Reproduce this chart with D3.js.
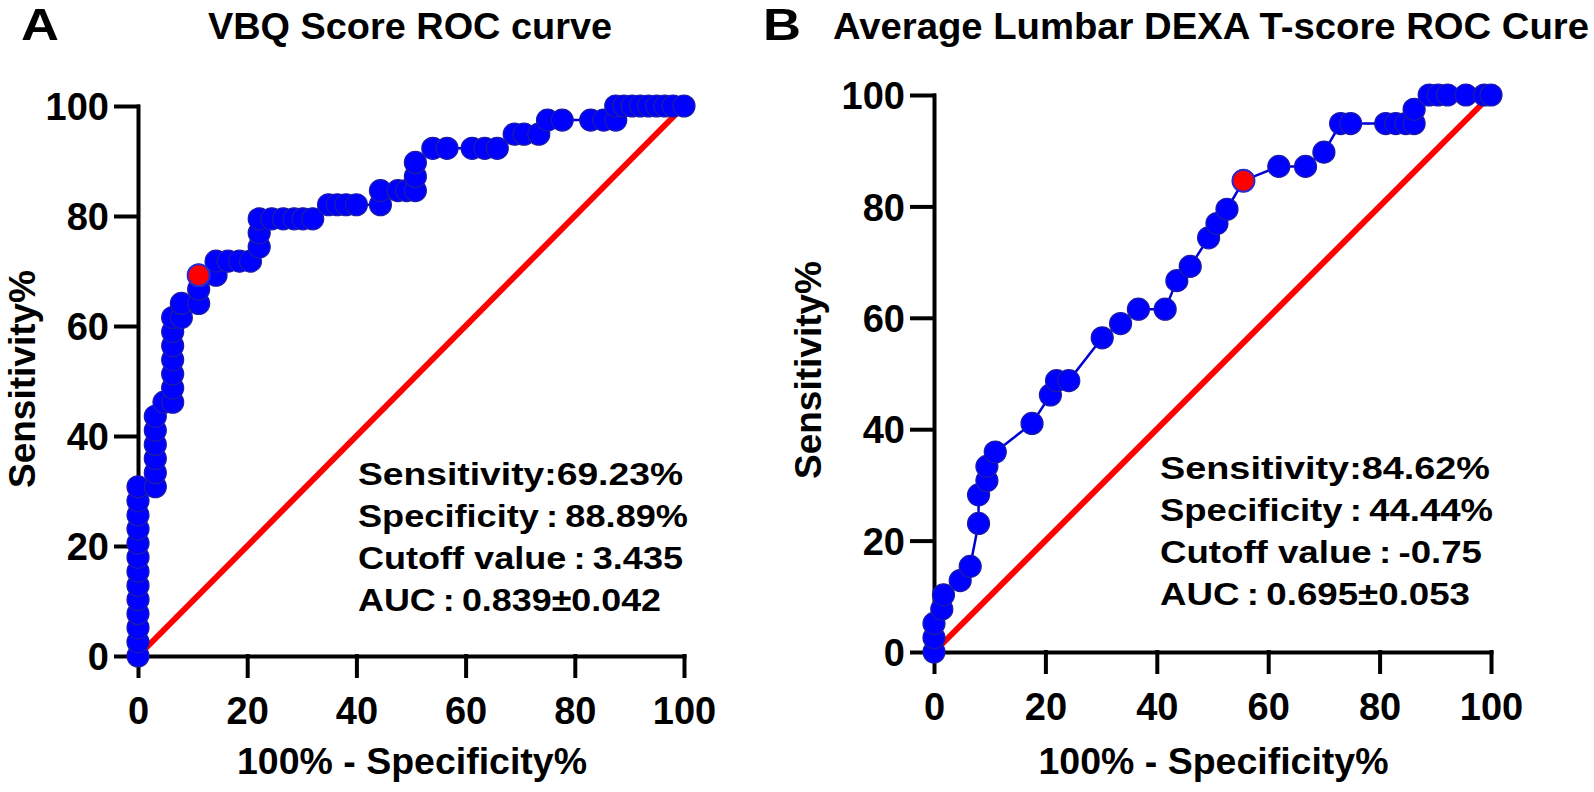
<!DOCTYPE html>
<html>
<head>
<meta charset="utf-8">
<script src="https://cdn.jsdelivr.net/npm/d3@7"></script>
<style>
  body { margin: 0; background: #fff; }
  svg text { font-family: "Liberation Sans", Arial, sans-serif; font-weight: bold; }
</style>
</head>
<body>
<div id="chart"></div>
<script>
// ROC points for VBQ score (x = 100% - specificity, y = sensitivity)
const vbqFpr = [0, 0, 0, 0, 0, 0, 0, 0, 0, 0, 0, 0, 0,
  3.17, 3.17, 3.17, 3.17, 3.17, 3.17, 4.76,
  6.35, 6.35, 6.35, 6.35, 6.35, 6.35, 6.35, 7.94, 7.94,
  11.11, 11.11, 11.11, 14.29, 14.29, 16.5, 18.6, 20.6,
  22.2, 22.2, 22.2, 24.5, 26.6, 28.6, 30.2, 32.0,
  34.9, 36.5, 38.1, 40.0, 44.4, 44.4, 47.6, 49.2, 50.8, 50.8, 50.8,
  54.0, 56.6, 61.2, 63.5, 65.8, 68.9, 70.7, 73.4,
  75.0, 77.7, 82.9, 85.3, 87.5,
  87.5, 89.0, 90.5, 92.0, 93.5, 95.0, 96.5, 98.0, 100];
const vbqSens = [0, 2.56, 5.13, 7.69, 10.26, 12.82, 15.38, 17.95, 20.51, 23.08, 25.64, 28.21, 30.77,
  30.77, 33.33, 35.90, 38.46, 41.03, 43.59, 46.15,
  46.15, 48.72, 51.28, 53.85, 56.41, 58.97, 61.54, 61.54, 64.10,
  64.10, 66.67, 69.23, 69.23, 71.79, 71.79, 71.79, 71.79,
  74.36, 76.92, 79.49, 79.49, 79.49, 79.49, 79.49, 79.49,
  82.05, 82.05, 82.05, 82.05, 82.05, 84.62, 84.62, 84.62, 84.62, 87.18, 89.74,
  92.31, 92.31, 92.31, 92.31, 92.31, 94.87, 94.87, 94.87,
  97.44, 97.44, 97.44, 97.44, 97.44,
  100, 100, 100, 100, 100, 100, 100, 100, 100];
const vbqCutoff = [11.11, 69.23];
const vbqStats = ["Sensitivity:69.23%", "Specificity\u2009:\u200988.89%", "Cutoff value\u2009:\u20093.435", "AUC\u2009:\u20090.839\u00b10.042"];

// ROC points for average lumbar DEXA T-score
const dexaFpr = [0, 0, 0, 1.4, 1.7, 4.7, 6.5, 8.0, 8.0, 9.5, 9.5, 11.0,
  17.6, 20.9, 22.0, 24.2, 30.2, 33.5, 36.7, 41.5, 43.6, 46.0, 49.3, 50.8, 52.6,
  55.56, 61.9, 66.7, 70.0, 73.0, 74.8, 81.1, 82.9, 84.7, 86.2, 86.2,
  88.9, 90.5, 92.2, 95.5, 98.8, 100];
const dexaSens = [0, 2.56, 5.13, 7.69, 10.26, 12.82, 15.38, 23.08, 28.21, 30.77, 33.33, 35.90,
  41.03, 46.15, 48.72, 48.72, 56.41, 58.97, 61.54, 61.54, 66.67, 69.23, 74.36, 76.92, 79.49,
  84.62, 87.18, 87.18, 89.74, 94.87, 94.87, 94.87, 94.87, 94.87, 94.87, 97.44,
  100, 100, 100, 100, 100, 100];
const dexaCutoff = [55.56, 84.62];
const dexaStats = ["Sensitivity:84.62%", "Specificity\u2009:\u200944.44%", "Cutoff value\u2009:\u2009-0.75", "AUC\u2009:\u20090.695\u00b10.053"];

const tickValues = [0, 20, 40, 60, 80, 100];

const svg = d3.select("#chart")
    .append("svg")
    .attr("width", 1594)
    .attr("height", 792);

function drawPanel(p) {
    const x = d3.scaleLinear().domain([0, 100]).range(p.xRange);
    const y = d3.scaleLinear().domain([0, 100]).range(p.yRange);
    const g = svg.append("g");

    // axes
    const xAxis = g.append("g")
        .attr("transform", "translate(0," + p.yRange[0] + ")")
        .call(d3.axisBottom(x).tickValues(tickValues).tickSize(20).tickSizeOuter(0).tickPadding(21));
    const yAxis = g.append("g")
        .attr("transform", "translate(" + p.xRange[0] + ",0)")
        .call(d3.axisLeft(y).tickValues(tickValues).tickSize(22).tickSizeOuter(0).tickPadding(7));
    [xAxis, yAxis].forEach(a => {
        a.selectAll("path, line").attr("stroke", "#000").attr("stroke-width", 4).attr("stroke-linecap", "square");
        a.selectAll("text").attr("fill", "#000").style("font-size", "38px");
    });
    xAxis.selectAll("text").attr("dy", "0.71em");
    yAxis.selectAll("text").attr("dy", "0.36em");

    // reference diagonal
    g.append("line")
        .attr("x1", x(0)).attr("y1", y(0))
        .attr("x2", x(100)).attr("y2", y(100))
        .attr("stroke", "#ff0000")
        .attr("stroke-width", 6);

    const pts = p.fpr.map((v, i) => [v, p.sens[i]]);
    const line = d3.line().x(d => x(d[0])).y(d => y(d[1]));
    g.append("path")
        .attr("d", line(pts))
        .attr("fill", "none")
        .attr("stroke", "#0000d0")
        .attr("stroke-width", 2.5);

    g.selectAll(".pt")
        .data(pts)
        .enter()
        .append("circle")
        .attr("cx", d => x(d[0]))
        .attr("cy", d => y(d[1]))
        .attr("r", 11)
        .attr("fill", "#0000ff")
        .attr("stroke", "#1c1ca8")
        .attr("stroke-width", 1.2);

    g.append("circle")
        .attr("cx", x(p.cutoff[0]))
        .attr("cy", y(p.cutoff[1]))
        .attr("r", 11)
        .attr("fill", "#ff0000")
        .attr("stroke", "#2a2ad0")
        .attr("stroke-width", 2);

    // stats text
    p.stats.forEach((s, i) => {
        g.append("text")
            .attr("x", p.statsX)
            .attr("y", p.statsY + i * 42)
            .style("font-size", "31px")
            .attr("textLength", p.statsLen[i])
            .attr("lengthAdjust", "spacingAndGlyphs")
            .text(s);
    });

    // axis titles
    g.append("text")
        .attr("x", (p.xRange[0] + p.xRange[1]) / 2 + 1)
        .attr("y", 774)
        .attr("text-anchor", "middle")
        .style("font-size", "36px")
        .attr("textLength", 350)
        .attr("lengthAdjust", "spacingAndGlyphs")
        .text("100% - Specificity%");
    g.append("text")
        .attr("transform", "translate(" + p.yLabelX + "," + p.yLabelY + ") rotate(-90)")
        .attr("text-anchor", "middle")
        .style("font-size", "37px")
        .text("Sensitivity%");

    // panel letter and title
    g.append("text")
        .attr("x", p.letterX).attr("y", 40)
        .style("font-size", "44px")
        .attr("textLength", 38)
        .attr("lengthAdjust", "spacingAndGlyphs")
        .text(p.letter);
    g.append("text")
        .attr("x", p.titleX).attr("y", 39)
        .attr("text-anchor", p.titleAnchor)
        .style("font-size", "36px")
        .attr("textLength", p.titleLen)
        .attr("lengthAdjust", "spacingAndGlyphs")
        .text(p.title);
}

drawPanel({
    fpr: vbqFpr, sens: vbqSens, cutoff: vbqCutoff, stats: vbqStats,
    xRange: [138, 684], yRange: [656, 106],
    statsX: 358, statsY: 485, statsLen: [325, 330, 325, 303],
    yLabelX: 35, yLabelY: 379,
    letter: "A", letterX: 21,
    title: "VBQ Score ROC curve", titleX: 410, titleAnchor: "middle", titleLen: 404
});

drawPanel({
    fpr: dexaFpr, sens: dexaSens, cutoff: dexaCutoff, stats: dexaStats,
    xRange: [934, 1491], yRange: [652, 95],
    statsX: 1160, statsY: 479, statsLen: [330, 333, 322, 310],
    yLabelX: 821, yLabelY: 370,
    letter: "B", letterX: 763,
    title: "Average Lumbar DEXA T-score ROC Cure", titleX: 833, titleAnchor: "start", titleLen: 756
});
</script>
</body>
</html>
